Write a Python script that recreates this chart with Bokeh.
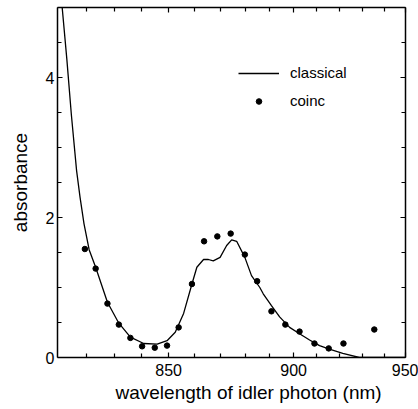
import numpy as np
from bokeh.plotting import figure
from bokeh.models import (Range1d, FixedTicker, CustomJSTickFormatter, LinearAxis,
                          Legend, LegendItem, ColumnDataSource, Title)
from bokeh.embed import file_html
from bokeh.resources import INLINE

# ---- data (wavelength in nm, absorbance) ----
wl_classical = [811.5, 813.2, 814.8, 816.6, 817.8, 819.2, 821.0, 823.3, 827.5, 831.6,
                835.8, 840.7, 845.7, 849.4, 852.5, 855.7, 858.9, 860.8, 863.4, 865.3,
                867.2, 869.9, 872.5, 874.5, 876.5, 879.8, 882.5, 885.9, 887.3, 890.7,
                894.1, 898.3, 902.5, 906.8, 911.1, 915.4, 921.3, 928.7, 940.0, 950.0]
abs_classical = [5.05, 4.27, 3.46, 2.67, 2.29, 1.91, 1.54, 1.29, 0.79, 0.49,
                 0.29, 0.20, 0.19, 0.24, 0.36, 0.63, 1.05, 1.29, 1.40, 1.40,
                 1.38, 1.43, 1.60, 1.68, 1.66, 1.43, 1.17, 1.00, 0.91, 0.74,
                 0.58, 0.43, 0.34, 0.25, 0.17, 0.12, 0.06, 0.0, 0.0, 0.0]

wl_coinc = [819.5, 823.3, 827.5, 831.6, 835.8, 840.1, 844.8, 849.4, 853.8, 858.9,
            863.6, 868.8, 874.1, 879.8, 884.8, 890.7, 896.5, 902.5, 908.9, 915.1,
            921.6, 935.5]
abs_coinc = [1.55, 1.27, 0.77, 0.47, 0.28, 0.16, 0.14, 0.17, 0.43, 1.05,
             1.66, 1.73, 1.77, 1.47, 1.09, 0.66, 0.47, 0.37, 0.20, 0.13,
             0.20, 0.40]

x_major_labels = [850, 900, 950]
x_minor_nm = [820, 830, 840, 860, 870, 880, 890, 910, 920, 930, 940]
y_major = [0, 2, 4]
y_minor = [0.5, 1, 1.5, 2.5, 3, 3.5, 4.5, 5]

# axis is linear in optical frequency (wavenumber, cm^-1), labelled in nm
def wn(a):
    return 1e7 / np.asarray(a, dtype=float)

FONT = "Liberation Sans"

p = figure(width=418, height=409, output_backend="svg", toolbar_location=None,
           x_range=Range1d(1e7 / 810, 1e7 / 950), y_range=Range1d(0, 5.0),
           min_border_left=57, min_border_right=13, min_border_top=7,
           min_border_bottom=52, x_axis_location=None, y_axis_location=None)
p.background_fill_color = "white"
p.border_fill_color = "white"
p.outline_line_color = None
p.grid.visible = False

xt = FixedTicker(ticks=list(wn(x_major_labels)), minor_ticks=list(wn(x_minor_nm)))
yt = FixedTicker(ticks=y_major, minor_ticks=y_minor)
fmt = CustomJSTickFormatter(code="return Math.round(1e7 / tick).toString();")

def style(ax, labels=True):
    ax.axis_line_color = "black"
    ax.axis_line_width = 1.5
    ax.major_tick_line_color = "black"
    ax.minor_tick_line_color = "black"
    ax.major_tick_line_width = 1.2
    ax.minor_tick_line_width = 1.2
    ax.major_tick_in = 5
    ax.major_tick_out = 0
    ax.minor_tick_in = 4
    ax.minor_tick_out = 0
    ax.major_label_text_font = FONT
    ax.major_label_text_font_size = "16px"
    ax.major_label_text_color = "black" if labels else None
    ax.axis_label_text_font = FONT
    ax.axis_label_text_font_size = "19px"
    ax.axis_label_text_font_style = "normal"
    ax.axis_label_text_color = "black"

xb = LinearAxis(ticker=xt, formatter=fmt)
style(xb)
xb.major_label_standoff = 6
p.add_layout(xb, "below")

# x-axis title below the tick labels, shifted a little right as in the original
xtitle = Title(text="wavelength of idler photon (nm)", align="left", offset=58,
               text_font=FONT, text_font_size="19px", text_font_style="normal",
               text_color="black", standoff=2)
p.add_layout(xtitle, "below")

xtop = LinearAxis(ticker=xt, formatter=fmt)
style(xtop, labels=False)
xtop.major_label_text_font_size = "0px"
p.add_layout(xtop, "above")

yl = LinearAxis(ticker=yt, axis_label="absorbance")
style(yl)
yl.major_label_standoff = 3
yl.axis_label_standoff = 12
p.add_layout(yl, "left")

yr = LinearAxis(ticker=yt)
style(yr, labels=False)
yr.major_label_text_font_size = "0px"
p.add_layout(yr, "right")

src_c = ColumnDataSource(dict(x=wn(wl_classical), y=abs_classical))
src_p = ColumnDataSource(dict(x=wn(wl_coinc), y=abs_coinc))

r_line = p.line("x", "y", source=src_c, line_color="black", line_width=1.3)
r_pts = p.scatter("x", "y", source=src_p, marker="circle", size=5.5,
                  fill_color="black", line_color="black")

legend = Legend(items=[LegendItem(label="classical", renderers=[r_line]),
                       LegendItem(label="coinc", renderers=[r_pts])],
                location=(181, 248), orientation="vertical")
legend.border_line_color = None
legend.background_fill_alpha = 0
legend.padding = 0
legend.margin = 0
legend.spacing = 11
legend.glyph_width = 41
legend.glyph_height = 14
legend.label_height = 14
legend.label_standoff = 11
legend.label_text_font = FONT
legend.label_text_font_size = "15px"
legend.label_text_color = "black"
p.add_layout(legend, "center")

open("out.html", "w").write(file_html(p, INLINE))
